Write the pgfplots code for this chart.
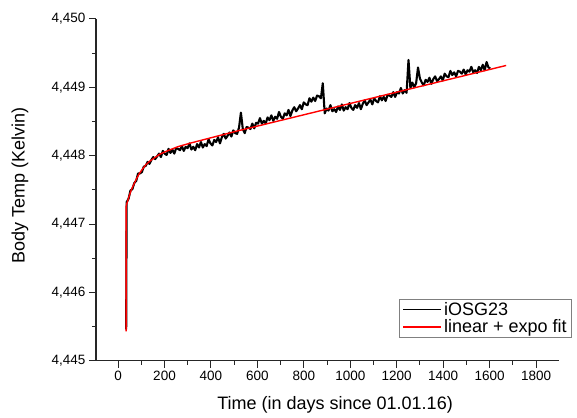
\documentclass[border=0pt]{standalone}
\usepackage{fontspec}
\setmainfont{Liberation Sans}
\usepackage{pgfplots}
\pgfplotsset{compat=1.18}
\begin{document}
\begin{tikzpicture}[x=1pt,y=1pt]
\useasboundingbox (0,0) rectangle (577,-417);
\begin{axis}[
 at={(96pt,-360.7pt)}, anchor=south west,
 scale only axis, width=463.3pt, height=341.7pt,
 xmin=-95, xmax=1900, ymin=4.445, ymax=4.450,
 axis x line*=bottom, axis y line*=left,
 axis line style={line width=1.1pt, -, black!85},
 xtick={0,200,...,1800}, minor x tick num=1,
 ytick={4.445,4.446,4.447,4.448,4.449,4.450}, minor y tick num=1,
 tick align=outside, major tick length=7pt, minor tick length=4pt,
 every tick/.style={black!85, line width=1pt},
 scaled y ticks=false, scaled x ticks=false,
 /pgf/number format/assume math mode=true,
 ticklabel style={font=\fontsize{13.5}{16}\selectfont},
 xticklabel style={/pgf/number format/1000 sep={}},
 yticklabel style={/pgf/number format/fixed, /pgf/number format/fixed zerofill, /pgf/number format/precision=3, /pgf/number format/use comma},
 xlabel={Time (in days since 01.01.16)},
 ylabel={Body Temp (Kelvin)},
 label style={font=\fontsize{18}{21}\selectfont},
 xlabel style={at={(axis description cs:0.516,-0.1296)}, anchor=center},
 ylabel style={at={(axis description cs:-0.164,0.514)}, anchor=center},
 legend cell align=left,
 legend style={at={(axis description cs:1.0274,0.0673)}, anchor=south east, draw=gray, line width=0.6pt, font=\fontsize{18}{20}\selectfont, inner xsep=3pt, inner ysep=1pt, row sep=-1pt},
 legend image code/.code={\draw[#1, line width=1.6pt] (0pt,0pt) -- (38pt,0pt);},
]
\addplot[black, line width=2.1pt, line join=round] coordinates {
(35,4.44546)(37,4.44732)(45.2,4.44737)(53.4,4.44749)(61.6,4.44751)(69.8,4.44760)(78,4.44763)(86.2,4.44774)(94.4,4.44774)(102.6,4.44776)(110.8,4.44784)
(119,4.44785)(127.2,4.44791)(135.4,4.44788)(143.6,4.44794)(151.8,4.44798)(160,4.44795)(168.2,4.44799)(176.4,4.44803)(184.6,4.44798)(192.8,4.44807)
(201,4.44803)(209.2,4.44801)(217.4,4.44810)(225.6,4.44804)(233.8,4.44809)(242,4.44803)(250.2,4.44811)(258.4,4.44810)(266.6,4.44808)(274.8,4.44814)
(283,4.44807)(291.2,4.44813)(299.4,4.44811)(307.6,4.44818)(315.8,4.44809)(324,4.44813)(332.2,4.44808)(340.4,4.44817)(348.6,4.44812)(356.8,4.44820)
(365,4.44812)(373.2,4.44817)(381.4,4.44814)(389.6,4.44824)(397.8,4.44818)(406,4.44815)(414.2,4.44823)(422.4,4.44820)(430.6,4.44827)(438.8,4.44818)
(447,4.44827)(455.2,4.44832)(463.4,4.44825)(471.6,4.44829)(479.8,4.44834)(488,4.44828)(496.2,4.44837)(504.4,4.44833)(512.6,4.44832)(520.8,4.44841)
(529,4.44863)(537.2,4.44839)(545.4,4.44833)(553.6,4.44842)(561.8,4.44841)(570,4.44839)(578.2,4.44847)(586.4,4.44840)(594.6,4.44848)(602.8,4.44847)
(611,4.44855)(619.2,4.44847)(627.4,4.44851)(635.6,4.44847)(643.8,4.44856)(652,4.44852)(660.2,4.44859)(668.4,4.44851)(676.6,4.44857)(684.8,4.44854)
(693,4.44864)(701.2,4.44857)(709.4,4.44854)(717.6,4.44862)(725.8,4.44859)(734,4.44867)(742.2,4.44858)(750.4,4.44866)(758.6,4.44871)(766.8,4.44865)
(775,4.44869)(783.2,4.44874)(791.4,4.44868)(799.6,4.44878)(807.8,4.44875)(816,4.44874)(824.2,4.44884)(832.4,4.44879)(840.6,4.44885)(848.8,4.44880)
(857,4.44888)(865.2,4.44887)(873.4,4.44884)(881.6,4.44906)(889.8,4.44862)(898,4.44869)(906.2,4.44866)(914.4,4.44874)(922.6,4.44865)(930.8,4.44868)
(939,4.44864)(947.2,4.44872)(955.4,4.44867)(963.6,4.44875)(971.8,4.44866)(980,4.44871)(988.2,4.44868)(996.4,4.44877)(1004.6,4.44870)(1012.8,4.44867)
(1021,4.44874)(1029.2,4.44870)(1037.4,4.44877)(1045.6,4.44868)(1053.8,4.44876)(1062,4.44881)(1070.2,4.44874)(1078.4,4.44878)(1086.6,4.44882)(1094.8,4.44875)
(1103,4.44884)(1111.2,4.44880)(1119.4,4.44878)(1127.6,4.44887)(1135.8,4.44881)(1144,4.44886)(1152.2,4.44880)(1160.4,4.44889)(1168.6,4.44888)(1176.8,4.44886)
(1185,4.44893)(1193.2,4.44886)(1201.4,4.44893)(1209.6,4.44891)(1217.8,4.44899)(1226,4.44891)(1234.2,4.44896)(1242.4,4.44892)(1250.6,4.44940)(1258.8,4.44899)
(1267,4.44907)(1275.2,4.44900)(1283.4,4.44906)(1291.6,4.44929)(1299.8,4.44913)(1308,4.44907)(1316.2,4.44903)(1324.4,4.44911)(1332.6,4.44908)(1340.8,4.44914)
(1349,4.44905)(1357.2,4.44912)(1365.4,4.44916)(1373.6,4.44909)(1381.8,4.44912)(1390,4.44916)(1398.2,4.44910)(1406.4,4.44920)(1414.6,4.44916)(1422.8,4.44915)
(1431,4.44924)(1439.2,4.44918)(1447.4,4.44922)(1455.6,4.44916)(1463.8,4.44924)(1472,4.44923)(1480.2,4.44920)(1488.4,4.44926)(1496.6,4.44919)(1504.8,4.44925)
(1513,4.44923)(1521.2,4.44930)(1529.4,4.44922)(1537.6,4.44925)(1545.8,4.44921)(1554,4.44930)(1562.2,4.44925)(1570.4,4.44933)(1578.6,4.44925)(1586.8,4.44937)
(1595,4.44929)(1603.2,4.44928)
};
\addlegendentry{iOSG23}
\addplot[red, line width=1.4pt] coordinates {
(35,4.44543)(35,4.44726)(38,4.44730)(41,4.44733)(46,4.44739)(51,4.44744)(56,4.44749)(61,4.44753)(72,4.44761)(82,4.44768)(92,4.44774)(102,4.44779)
(118,4.44786)(133,4.44791)(153,4.44796)(179,4.44802)(205,4.44806)(256,4.44813)(307,4.44818)(409,4.44827)(512,4.44836)(1671,4.44932)
};
\addlegendentry{linear + expo fit}
\end{axis}
\end{tikzpicture}
\end{document}
